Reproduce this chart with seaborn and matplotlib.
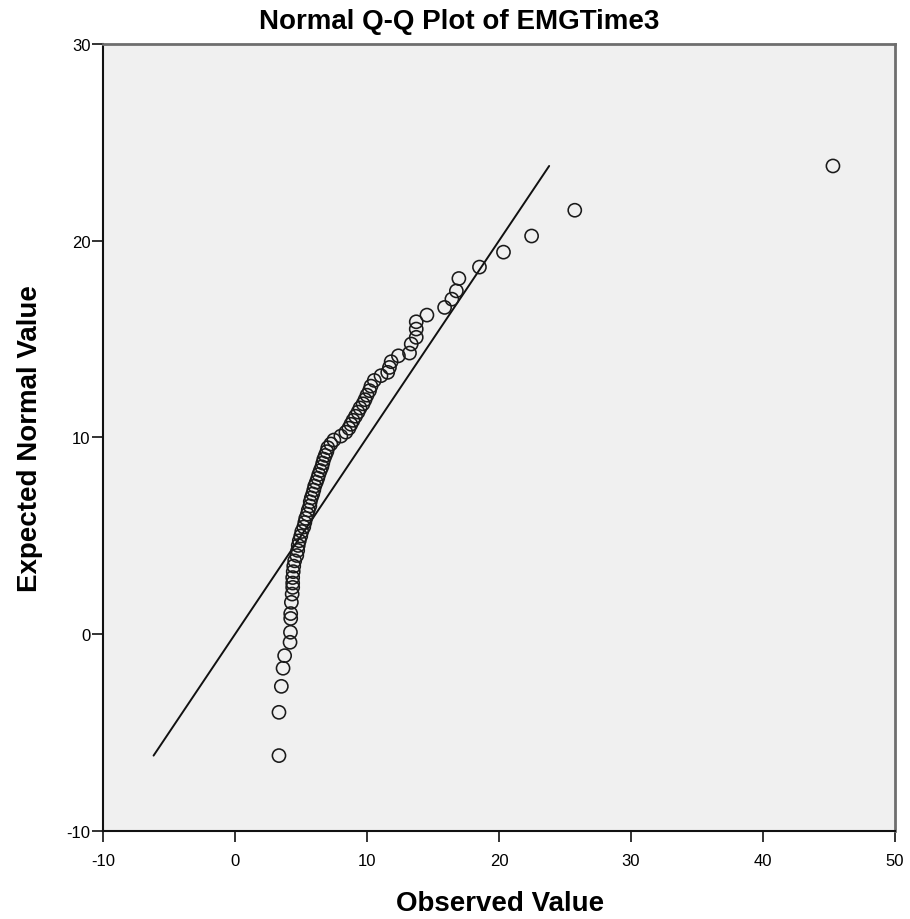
import matplotlib
matplotlib.use("Agg")
import matplotlib.pyplot as plt
import seaborn as sns
import pandas as pd

# Observed EMG time values (sorted) and their expected normal quantiles
observed = [
    3.33, 3.33, 3.51, 3.64, 3.76, 4.17, 4.20, 4.22, 4.22, 4.27, 4.33, 4.37,
    4.37, 4.37, 4.41, 4.45, 4.52, 4.68, 4.75, 4.79, 4.87, 4.98,
    5.06, 5.21, 5.29, 5.36, 5.48, 5.55, 5.67, 5.70, 5.78, 5.89,
    5.97, 6.04, 6.16, 6.27, 6.35, 6.46, 6.58, 6.65, 6.73, 6.84,
    6.96, 7.03, 7.26, 7.49, 8.02, 8.40, 8.63, 8.78, 8.94, 9.13,
    9.32, 9.47, 9.70, 9.85, 10.00, 10.19, 10.30,
    10.55, 11.06, 11.57, 11.70, 11.83, 12.38, 13.22, 13.35, 13.73, 13.73,
    13.73, 14.54, 15.88, 16.43, 16.77, 16.96, 18.52, 20.34, 22.47, 25.74,
    45.30,
]
expected = [
    -6.17, -3.97, -2.65, -1.73, -1.09, -0.41, 0.10, 0.80, 1.05, 1.62, 2.04, 2.38,
    2.60, 2.88, 3.18, 3.46, 3.73, 4.00, 4.26, 4.51, 4.75, 4.99,
    5.22, 5.45, 5.68, 5.89, 6.10, 6.31, 6.52, 6.73, 6.93, 7.13,
    7.33, 7.53, 7.73, 7.93, 8.12, 8.32, 8.51, 8.70, 8.90, 9.09,
    9.28, 9.48, 9.67, 9.87, 10.07, 10.27, 10.47, 10.67, 10.87, 11.08,
    11.29, 11.50, 11.71, 11.92, 12.15, 12.38, 12.61,
    12.90, 13.14, 13.31, 13.56, 13.85, 14.15, 14.29, 14.75, 15.09, 15.51,
    15.88, 16.22, 16.61, 17.03, 17.45, 18.08, 18.66, 19.42, 20.24, 21.55,
    23.80,
]
x_ticks = [-10, 0, 10, 20, 30, 40, 50]
y_ticks = [-10, 0, 10, 20, 30]

title = "Normal Q-Q Plot of EMGTime3"
x_label = "Observed Value"
y_label = "Expected Normal Value"

sns.set_style("ticks")
plt.rcParams["font.family"] = ["Liberation Sans", "DejaVu Sans"]
plt.rcParams["text.color"] = "black"
plt.rcParams["xtick.color"] = "black"
plt.rcParams["ytick.color"] = "black"

fig = plt.figure(figsize=(9.1, 9.2), dpi=100)
ax = fig.add_axes([0.1132, 0.0957, 0.8703, 0.8554])
ax.set_facecolor("#f0f0f0")

df = pd.DataFrame({"observed": observed, "expected": expected})

# Reference line y = x across the range of expected values
ref = [min(expected), max(expected)]
sns.lineplot(x=ref, y=ref, ax=ax, color="#111111", linewidth=1.4, zorder=2)

sns.scatterplot(data=df, x="observed", y="expected", ax=ax, marker="o", s=90,
                facecolor="none", edgecolor="#1a1a1a", linewidth=1.15, zorder=3)

ax.set_xlim(-10, 50)
ax.set_ylim(-10, 30)
ax.set_xticks(x_ticks)
ax.set_yticks(y_ticks)
ax.set_xticklabels([str(t) for t in x_ticks])
ax.set_yticklabels([str(t) for t in y_ticks])
ax.tick_params(direction="out", length=8, width=1.2, color="#111111",
               labelsize=12, labelcolor="black")
ax.tick_params(axis="x", pad=8)
ax.tick_params(axis="y", pad=1)
ax.set_xlabel("")
ax.set_ylabel("")

for side in ("left", "bottom"):
    ax.spines[side].set_color("#111111")
    ax.spines[side].set_linewidth(1.5)
for side in ("top", "right"):
    ax.spines[side].set_visible(True)
    ax.spines[side].set_color("#6e6e6e")
    ax.spines[side].set_linewidth(2.0)

fig.text(0.505, 0.976, title, ha="center", va="center", fontsize=20,
         fontweight="bold")
fig.text(0.549, 0.017, x_label, ha="center", va="center", fontsize=20,
         fontweight="bold")
fig.text(0.033, 0.523, y_label, ha="center", va="center", fontsize=20,
         fontweight="bold", rotation=90)

fig.savefig("out.png", dpi=100, facecolor="white")
